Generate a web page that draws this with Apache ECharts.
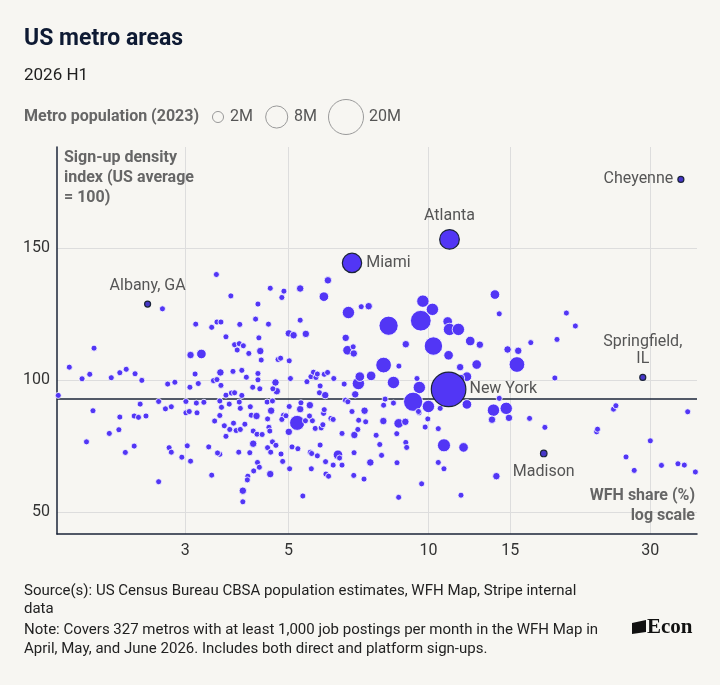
<!DOCTYPE html>
<html><head><meta charset="utf-8">
<script src="https://cdn.jsdelivr.net/npm/echarts@6/dist/echarts.min.js"></script>
<style>html,body{margin:0;padding:0;background:#f7f6f2;}#c{width:720px;height:685px;}</style>
</head><body><div id="c"></div>
<script>
// WFH share (%) per metro (x)
const wfhShare = [
1.60,1.69,1.91,1.80,1.87,1.90,1.84,2.06,2.16,2.17,
2.08,2.17,2.24,2.34,2.42,2.40,2.33,2.38,2.47,2.33,
2.23,2.63,2.63,2.72,2.80,2.75,2.85,2.77,2.80,2.95,
2.68,3.03,3.08,3.01,3.01,3.06,3.18,3.17,3.29,3.07,
3.20,3.15,3.08,3.25,3.37,3.42,3.47,3.56,3.59,3.56,
3.73,3.67,3.77,3.83,3.97,3.92,3.94,4.14,4.16,4.27,
3.64,3.74,3.81,3.86,3.94,4.03,3.67,3.56,3.52,3.91,
4.13,4.20,4.20,4.28,3.50,3.76,4.30,3.16,3.42,3.51,
3.58,3.93,4.25,3.67,4.32,3.83,3.92,4.00,3.88,4.11,
4.35,4.37,3.45,3.51,3.57,3.58,3.80,3.97,4.06,4.30,
4.30,4.19,4.34,4.09,4.08,4.21,4.29,4.33,3.99,3.99,
4.39,4.51,4.59,4.50,4.62,4.54,4.56,4.62,4.70,4.51,
4.58,4.82,4.86,4.57,5.03,5.37,5.01,5.22,5.30,5.32,
5.56,5.02,4.88,4.84,4.94,5.09,5.24,5.44,5.63,5.55,
5.71,5.88,5.93,5.95,5.97,6.17,6.24,5.85,5.57,5.61,
5.77,6.01,6.24,5.60,6.02,6.10,4.57,4.89,4.84,5.30,
6.08,5.96,4.53,5.30,5.01,5.13,5.45,4.75,4.81,5.02,
4.69,4.72,4.63,5.05,5.59,5.66,5.48,5.73,5.77,5.97,
6.07,5.85,5.83,6.00,6.26,6.52,6.39,6.44,6.52,6.93,
6.92,6.91,7.27,7.50,7.05,7.33,7.08,6.85,7.29,7.72,
7.86,7.93,6.96,6.63,6.71,6.59,7.07,7.12,7.53,6.64,
6.70,6.91,6.89,6.73,7.17,7.44,8.21,8.94,9.63,9.73,
10.2,10.25,8.01,8.64,8.41,9.45,9.56,9.27,10.0,9.55,
9.97,10.6,8.07,8.01,8.41,8.00,8.63,8.92,9.52,9.84,
10.5,8.55,8.94,8.98,8.56,9.67,8.63,10.5,10.8,10.8,
11.9,11.0,11.1,11.6,12.3,12.9,11.05,11.7,12.1,12.7,
12.1,13.9,14.2,14.8,15.6,16.6,15.5,18.9,19.8,20.7,
18.7,13.8,13.7,14.7,14.9,14.2,16.5,17.8,23.0,23.1,
25.0,25.3,36.1,14.0,30.0,26.6,27.7,31.7,34.4,35.5,
37.5,11.75,11.75
];
// Sign-up density index (US average = 100) per metro (y)
const signupIndex = [
94.2,104.9,112.1,100.5,102.2,88.4,76.6,79.8,81.2,86.0,
100.9,102.8,104.1,102.4,99.9,90.9,86.4,85.9,86.4,75.0,
72.6,61.5,91.9,89.1,89.9,98.5,99.2,74.4,72.7,70.8,
127.0,75.1,69.3,91.9,87.6,88.1,87.6,91.3,91.6,97.3,
98.7,102.3,109.5,109.9,74.7,64.0,84.5,86.6,89.7,92.1,
90.9,94.3,95.1,95.2,94.2,91.7,89.3,89.9,86.7,86.4,
82.7,81.3,83.7,80.9,81.3,83.3,78.7,71.9,72.4,72.7,
72.5,75.9,80.7,79.5,140.0,131.9,128.8,121.2,120.0,122.0,
122.0,121.1,123.1,116.4,116.0,113.4,113.8,113.0,111.4,110.1,
111.0,107.6,99.8,100.2,102.9,98.0,103.3,103.7,101.1,102.5,
100.1,97.3,96.7,63.6,62.2,65.6,68.8,67.0,58.1,53.9,
79.4,85.3,88.4,91.7,92.1,82.1,80.7,76.6,75.3,74.4,
72.7,72.0,69.2,64.4,66.4,56.1,80.4,83.8,89.0,91.4,
90.5,90.0,86.7,85.1,86.5,74.7,74.0,84.6,84.6,86.4,
81.7,81.9,83.1,87.4,88.8,85.5,85.1,75.4,72.7,72.2,
71.3,69.1,67.8,66.4,64.4,63.6,134.8,133.7,131.3,134.7,
137.8,131.6,121.2,122.7,117.7,117.0,117.5,107.8,108.3,107.3,
99.1,95.8,96.7,100.6,101.3,103.0,99.4,101.0,102.3,102.2,
102.9,97.8,95.2,94.3,100.6,79.8,71.7,70.5,67.8,79.2,
72.5,63.9,62.5,68.8,81.3,84.2,84.8,88.1,88.4,79.1,
75.6,71.5,94.6,92.4,91.8,98.5,98.7,101.3,101.6,116.0,
111.3,110.1,112.6,125.6,127.8,128.0,120.6,113.6,122.5,129.9,
126.8,112.9,105.7,105.3,99.1,100.6,97.2,91.8,90.0,87.6,
85.3,89.3,92.8,90.5,91.3,84.5,83.6,84.2,88.1,82.2,
81.6,79.7,76.4,74.5,68.7,60.7,55.6,68.8,66.4,75.3,
74.5,122.2,119.2,119.2,114.8,113.4,109.4,104.9,101.3,105.9,
90.8,132.4,125.1,111.6,111.1,114.2,105.9,115.4,125.4,120.5,
100.8,88.6,85.0,89.3,85.7,93.1,85.5,82.1,80.4,81.4,
89.0,90.3,88.0,63.6,77.0,70.9,65.8,67.7,68.3,67.8,
65.2,56.4,100.8
];
// Metro population (millions)
const population = [
0.4,0.4,0.4,0.4,0.4,0.4,0.4,0.4,0.4,0.4,
0.4,0.4,0.4,0.4,0.4,0.4,0.4,0.4,0.4,0.4,
0.4,0.4,0.4,0.4,0.4,0.4,0.4,0.4,0.4,0.4,
0.4,0.4,0.4,0.4,0.4,0.4,0.4,0.4,0.4,0.4,
0.4,0.4,0.9,1.5,0.4,0.4,0.4,0.4,0.4,0.4,
0.4,0.4,0.4,0.4,0.4,0.4,0.4,0.4,0.4,0.9,
0.4,0.4,0.4,0.4,0.4,0.4,0.4,0.4,0.4,0.4,
0.4,0.9,0.4,0.4,0.4,0.4,0.4,0.4,0.4,0.4,
0.4,0.4,0.4,0.4,0.4,0.4,0.4,0.4,0.4,0.4,
0.9,0.4,0.4,0.4,0.9,0.4,0.4,0.4,0.4,0.4,
0.4,0.4,0.4,0.4,0.4,0.4,0.4,0.4,0.9,0.4,
0.4,0.4,0.9,0.4,0.4,0.4,0.4,0.4,0.4,0.4,
0.4,0.4,0.4,0.9,0.4,0.4,0.9,3.7,0.9,0.4,
0.9,0.4,0.4,0.4,0.4,0.4,0.4,0.4,0.4,0.4,
0.4,0.4,0.4,0.4,0.4,0.4,0.4,0.4,0.4,0.4,
0.4,0.4,0.4,0.4,0.4,0.4,0.4,0.4,0.4,0.9,
0.9,1.5,0.4,0.4,0.9,0.9,0.9,0.4,0.4,0.4,
0.9,0.9,0.4,0.4,0.4,0.4,0.4,0.4,0.4,0.4,
0.4,0.4,0.4,0.9,0.4,0.4,1.5,0.4,0.4,0.9,
0.4,0.4,0.4,0.9,0.4,0.4,0.4,0.4,0.9,0.4,
0.4,0.4,0.9,0.4,0.4,0.4,2.5,1.5,1.5,0.9,
1.5,0.9,0.4,2.5,0.4,0.9,6.0,0.9,7.0,2.5,
2.5,5.5,4.0,0.4,2.5,0.4,2.5,6.0,2.5,0.4,
0.4,0.4,0.4,0.4,0.4,0.9,1.5,0.9,0.4,0.4,
0.4,0.4,0.4,0.4,0.4,0.4,0.4,0.4,0.4,2.8,
1.5,1.5,2.5,2.5,1.5,0.9,1.5,0.9,1.5,1.5,
1.5,1.5,0.4,0.9,0.9,0.4,4.0,0.4,0.4,0.4,
0.4,2.5,0.9,2.5,0.9,0.4,0.4,0.4,0.4,0.4,
0.4,0.4,0.4,0.9,0.4,0.4,0.4,0.4,0.4,0.4,
0.4,0.4,0.9
];
// Annotated metros
const labeledNames = ['Albany, GA','Miami','Atlanta','Cheyenne','Springfield,\nIL','New York','Madison'];
const labeledWfh = [2.49, 6.85, 11.1, 34.9, 28.9, 11.05, 17.7];
const labeledIndex = [128.8, 144.4, 153.3, 176.0, 101.0, 96.5, 72.2];
const labeledPop = [0.15, 6.1, 6.3, 0.1, 0.2, 19.5, 0.7];
// Axes / legend / reference
const xTicks = [3, 5, 10, 15, 30];
const yTicks = [50, 100, 150];
const legendPops = [2, 8, 20];
const legendLabels = ['2M', '8M', '20M'];
const referenceIndex = 93;

const BG = '#f7f6f2', FILL = '#5236f5', DARK = '#1b2438', FONT = 'Roboto';
const sizeFor = p => Math.max(6, 35 * Math.sqrt(p / 20));
const labelPos = ['top','right','top','left','top','right','bottom'];
const labelDist = [6, 4, 4, 4, 6, 3, 6];
const darkFill = [true, false, false, true, true, false, true];

const mainData = wfhShare.map((x, i) => [x, signupIndex[i], population[i]]);
const labeledData = labeledNames.map((n, i) => ({
  name: n,
  value: [labeledWfh[i], labeledIndex[i], labeledPop[i]],
  itemStyle: { color: darkFill[i] ? '#4636c8' : FILL, borderColor: DARK, borderWidth: 1.2, opacity: 1 },
  label: { show: true, position: labelPos[i], distance: labelDist[i], formatter: n }
}));

// legend layout
const legendCY = 117;
const legendCX = [218, 276.7, 346];
const legendTX = [230, 294, 369];
const legendGraphics = [];
legendPops.forEach((p, i) => {
  legendGraphics.push({ type: 'circle', shape: { cx: legendCX[i], cy: legendCY, r: sizeFor(p) / 2 },
    style: { fill: 'none', stroke: '#9a9a9a', lineWidth: 1 } });
  legendGraphics.push({ type: 'text', x: legendTX[i], y: legendCY,
    style: { text: legendLabels[i], fontSize: 16, fontFamily: FONT, fill: '#555', verticalAlign: 'middle' } });
});

const chart = echarts.init(document.getElementById('c'));
chart.setOption({
  backgroundColor: BG,
  animation: false,
  grid: { left: 57, right: 23, top: 147, bottom: 151 },
  xAxis: {
    type: 'log', logBase: 10, min: 1.59, max: 37.8,
    axisLine: { show: true, lineStyle: { color: DARK, width: 1.5 } },
    axisTick: { show: false, customValues: xTicks },
    axisLabel: { customValues: xTicks, fontSize: 16, fontFamily: FONT, color: '#333', margin: 9 },
    splitLine: { show: true, lineStyle: { color: '#dddddd', width: 1 } },
    minorSplitLine: { show: false }
  },
  yAxis: {
    type: 'value', min: 41.7, max: 188.3,
    axisLine: { show: true, lineStyle: { color: DARK, width: 1.5 } },
    axisTick: { show: false, customValues: yTicks },
    axisLabel: { customValues: yTicks, fontSize: 16, fontFamily: FONT, color: '#333', margin: 7 },
    splitLine: { show: true, lineStyle: { color: '#dddddd', width: 1 } }
  },
  series: [
    {
      type: 'scatter', z: 3,
      data: mainData,
      symbolSize: v => sizeFor(v[2]),
      itemStyle: { color: FILL, borderColor: '#ffffff', borderWidth: 0.8, opacity: 1 },
      markLine: {
        z: 1, silent: true, symbol: 'none',
        label: { show: false },
        lineStyle: { color: DARK, width: 1.5, type: 'solid' },
        data: [{ yAxis: referenceIndex }]
      }
    },
    {
      type: 'scatter', z: 4,
      data: labeledData,
      symbolSize: v => sizeFor(v[2]),
      label: { fontSize: 16, fontFamily: FONT, color: '#555', lineHeight: 17 }
    }
  ],
  graphic: [
    { type: 'text', x: 24, y: 39, style: { text: 'US metro areas', fontSize: 23, fontWeight: 'bold', fontFamily: FONT, fill: '#0e1a33', verticalAlign: 'middle' } },
    { type: 'text', x: 24, y: 76, style: { text: '2026 H1', fontSize: 17, fontFamily: FONT, fill: '#1f1f1f', verticalAlign: 'middle' } },
    { type: 'text', x: 24, y: legendCY, style: { text: 'Metro population (2023)', fontSize: 16, fontWeight: 'bold', fontFamily: FONT, fill: '#666', verticalAlign: 'middle' } },
    ...legendGraphics,
    { type: 'text', x: 64, y: 148, z: 10, style: { text: 'Sign-up density\nindex (US average\n= 100)', fontSize: 16, fontWeight: 'bold', fontFamily: FONT, fill: '#666', lineHeight: 20, verticalAlign: 'top' } },
    { type: 'text', x: 695, y: 486, z: 10, style: { text: 'WFH share (%)\nlog scale', fontSize: 16, fontWeight: 'bold', fontFamily: FONT, fill: '#666', lineHeight: 20, align: 'right', verticalAlign: 'top' } },
    { type: 'text', x: 24, y: 582, style: { text: 'Source(s): US Census Bureau CBSA population estimates, WFH Map, Stripe internal\ndata', fontSize: 15, fontFamily: FONT, fill: '#222', lineHeight: 18, verticalAlign: 'top' } },
    { type: 'text', x: 24, y: 621, style: { text: 'Note: Covers 327 metros with at least 1,000 job postings per month in the WFH Map in\nApril, May, and June 2026. Includes both direct and platform sign-ups.', fontSize: 15, fontFamily: FONT, fill: '#222', lineHeight: 19, verticalAlign: 'top' } },
    { type: 'polygon', shape: { points: [[632, 623], [646, 620], [646, 632], [632, 634]] }, style: { fill: '#111' } },
    { type: 'text', x: 647, y: 628, style: { text: 'Econ', fontSize: 21, fontWeight: 'bold', fontFamily: 'Liberation Serif', fill: '#111', verticalAlign: 'middle' } }
  ]
});
</script>
</body></html>
